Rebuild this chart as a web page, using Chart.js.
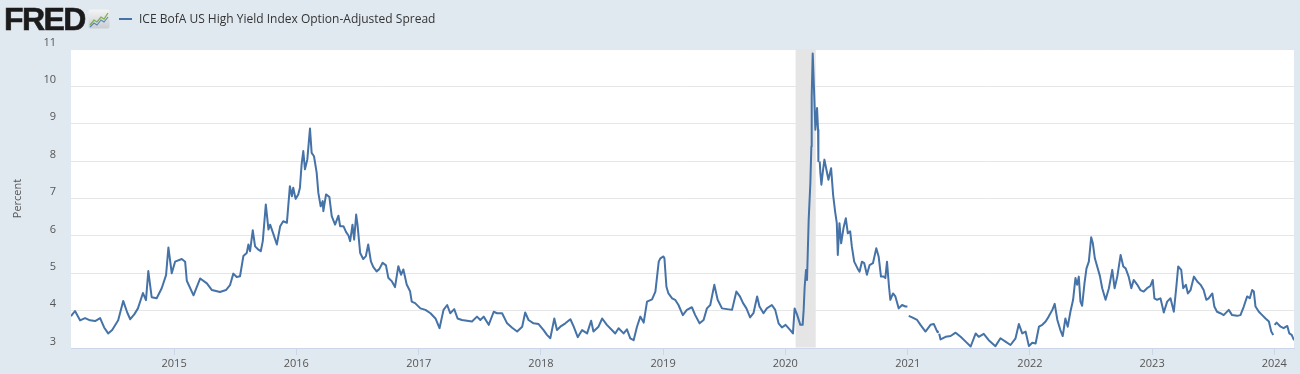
<!DOCTYPE html>
<html>
<head>
<meta charset="utf-8">
<script src="https://cdn.jsdelivr.net/npm/chart.js@4.4.1/dist/chart.umd.min.js"></script>
<style>
html,body{margin:0;padding:0;background:#e1e9f0;}
#wrap{position:relative;width:1300px;height:374px;overflow:hidden;background:#e1e9f0;}
#logo{position:absolute;left:4px;top:3px;font:bold 32px 'Liberation Sans',Arial,sans-serif;line-height:32px;letter-spacing:-1.6px;color:#1b1b1b;-webkit-text-stroke:0.6px #1b1b1b;}
#icon{position:absolute;left:88px;top:9px;}
#legend{position:absolute;left:119px;top:11px;font:12px 'Open Sans',sans-serif;color:#333;line-height:16px;white-space:nowrap;}
#legend .sw{display:inline-block;width:13px;height:2px;background:#4572a7;vertical-align:middle;margin-right:7px;position:relative;top:-1px;}
canvas{position:absolute;left:0;top:0;}
</style>
</head>
<body>
<div id="wrap">
  <canvas id="c" width="1300" height="374"></canvas>
  <div id="logo">FRED</div>
  <svg id="icon" width="22" height="20" viewBox="0 0 22 20">
    <defs><linearGradient id="g" x1="0" y1="0" x2="0" y2="1"><stop offset="0" stop-color="#f4f4f4"/><stop offset="1" stop-color="#c9cdd1"/></linearGradient></defs>
    <rect x="0.5" y="0.5" width="21" height="19" rx="2" fill="url(#g)"/>
    <polyline points="2,16 6,11 9,13 13,8 16,10 20,4" fill="none" stroke="#7fb24a" stroke-width="1.3"/>
    <polyline points="2,18 6,14 9,16 13,11 16,13 20,8" fill="none" stroke="#5b86b8" stroke-width="1.1"/>
  </svg>
  <div id="legend"><span class="sw"></span><span id="legendText"></span></div>
</div>
<script>
const seriesName = 'ICE BofA US High Yield Index Option-Adjusted Spread';
const yAxisTitle = 'Percent';
const yearTicks = [2015, 2016, 2017, 2018, 2019, 2020, 2021, 2022, 2023, 2024];
const recessions = [['2020-02-01', '2020-04-01']];

const dates = [
  '2014-02-27','2014-03-11','2014-03-26','2014-04-10','2014-04-25','2014-05-10','2014-05-25','2014-06-06','2014-06-18','2014-06-30','2014-07-18','2014-08-02','2014-08-14','2014-08-23','2014-09-04','2014-09-15','2014-09-30','2014-10-09','2014-10-16','2014-10-26','2014-11-10','2014-11-25','2014-12-08','2014-12-15','2014-12-25',
  '2015-01-04','2015-01-24','2015-02-03','2015-02-08','2015-02-28','2015-03-20','2015-04-09','2015-04-24','2015-05-18','2015-06-05','2015-06-17','2015-06-27','2015-07-07','2015-07-17','2015-07-27','2015-08-06','2015-08-11','2015-08-16','2015-08-24','2015-08-31','2015-09-10','2015-09-17','2015-09-23','2015-10-02','2015-10-10','2015-10-15','2015-10-25','2015-11-04','2015-11-14','2015-11-23','2015-12-04','2015-12-13','2015-12-19','2015-12-23','2015-12-30',
  '2016-01-07','2016-01-12','2016-01-17','2016-01-22','2016-01-27','2016-02-03','2016-02-11','2016-02-16','2016-02-23','2016-03-02','2016-03-07','2016-03-14','2016-03-20','2016-03-22','2016-03-30','2016-04-09','2016-04-16','2016-04-26','2016-05-06','2016-05-11','2016-05-21','2016-05-29','2016-06-05','2016-06-10','2016-06-17','2016-06-22','2016-06-28','2016-07-02','2016-07-10','2016-07-19','2016-07-27','2016-08-03','2016-08-11','2016-08-18','2016-08-28','2016-09-05','2016-09-15','2016-09-25','2016-10-02','2016-10-12','2016-10-22','2016-11-01','2016-11-09','2016-11-16','2016-11-26','2016-12-06','2016-12-11','2016-12-21',
  '2017-01-06','2017-01-21','2017-02-05','2017-02-20','2017-03-04','2017-03-16','2017-03-27','2017-04-05','2017-04-17','2017-04-27','2017-05-10','2017-05-25','2017-06-09','2017-06-24','2017-07-04','2017-07-14','2017-07-29','2017-08-13','2017-08-23','2017-09-07','2017-09-22','2017-10-07','2017-10-22','2017-11-06','2017-11-15','2017-11-25','2017-12-10','2017-12-25',
  '2018-01-09','2018-01-19','2018-01-29','2018-02-10','2018-02-18','2018-02-28','2018-03-15','2018-03-30','2018-04-09','2018-04-21','2018-05-04','2018-05-19','2018-05-31','2018-06-07','2018-06-22','2018-07-03','2018-07-17','2018-08-01','2018-08-11','2018-08-21','2018-09-05','2018-09-15','2018-09-25','2018-10-05','2018-10-15','2018-10-25','2018-11-04','2018-11-14','2018-11-29','2018-12-09','2018-12-19','2018-12-24',
  '2019-01-02','2019-01-05','2019-01-11','2019-01-17','2019-01-28','2019-02-06','2019-02-16','2019-03-01','2019-03-13','2019-03-28','2019-04-07','2019-04-20','2019-05-02','2019-05-12','2019-05-22','2019-06-03','2019-06-13','2019-06-26','2019-07-11','2019-07-26','2019-08-08','2019-08-18','2019-08-28','2019-09-07','2019-09-18','2019-09-28','2019-10-09','2019-10-16','2019-10-28','2019-11-07','2019-11-22','2019-12-02','2019-12-12','2019-12-22',
  '2020-01-02','2020-01-16','2020-01-24','2020-01-29','2020-02-05','2020-02-15','2020-02-22','2020-02-25','2020-02-28','2020-03-03','2020-03-06','2020-03-11','2020-03-16','2020-03-19','2020-03-20','2020-03-23','2020-03-27','2020-03-31','2020-04-05','2020-04-08','2020-04-09','2020-04-10','2020-04-13','2020-04-15','2020-04-18','2020-04-23','2020-04-27','2020-05-03','2020-05-09','2020-05-17','2020-05-23','2020-05-29','2020-06-03','2020-06-06','2020-06-11','2020-06-16','2020-06-23','2020-06-30','2020-07-06','2020-07-13','2020-07-18','2020-07-25','2020-08-04','2020-08-10','2020-08-17','2020-08-24','2020-09-01','2020-09-09','2020-09-19','2020-09-29','2020-10-06','2020-10-13','2020-10-21','2020-10-26','2020-10-31','2020-11-06','2020-11-10','2020-11-18','2020-11-25','2020-12-05','2020-12-15','2020-12-25','2020-12-31',
  '2021-01-01','2021-01-04','2021-01-14','2021-01-29','2021-02-08','2021-02-23','2021-03-10','2021-03-20','2021-03-30','2021-04-01','2021-04-02','2021-04-05','2021-04-09','2021-04-24','2021-05-09','2021-05-24','2021-06-08','2021-06-23','2021-07-08','2021-07-23','2021-08-01','2021-08-16','2021-08-31','2021-09-20','2021-10-05','2021-10-20','2021-11-04','2021-11-19','2021-11-29','2021-12-09','2021-12-19','2021-12-29',
  '2022-01-08','2022-01-18','2022-01-28','2022-02-07','2022-02-17','2022-02-26','2022-03-09','2022-03-16','2022-03-24','2022-04-02','2022-04-09','2022-04-17','2022-04-24','2022-05-02','2022-05-10','2022-05-17','2022-05-22','2022-05-27','2022-06-01','2022-06-06','2022-06-13','2022-06-19','2022-06-26','2022-07-03','2022-07-08','2022-07-14','2022-07-21','2022-07-29','2022-08-05','2022-08-15','2022-08-25','2022-09-04','2022-09-11','2022-09-19','2022-09-29','2022-10-07','2022-10-14','2022-10-23','2022-10-31','2022-11-07','2022-11-18','2022-11-27','2022-12-07','2022-12-17','2022-12-27',
  '2023-01-03','2023-01-08','2023-01-16','2023-01-26','2023-02-05','2023-02-15','2023-02-25','2023-03-07','2023-03-15','2023-03-20','2023-03-29','2023-04-04','2023-04-12','2023-04-18','2023-04-26','2023-05-06','2023-05-16','2023-05-26','2023-06-04','2023-06-12','2023-06-19','2023-06-30','2023-07-06','2023-07-14','2023-07-24','2023-08-03','2023-08-18','2023-08-28','2023-09-12','2023-09-22','2023-10-02','2023-10-12','2023-10-20','2023-10-27','2023-11-01','2023-11-06','2023-11-16','2023-11-26','2023-12-06','2023-12-16','2023-12-23','2023-12-29',
  '2024-01-01','2024-01-02','2024-01-08','2024-01-20','2024-01-29','2024-02-09','2024-02-15','2024-02-22','2024-02-29'
];

const spreads = [
  3.85,3.99,3.74,3.80,3.74,3.72,3.80,3.55,3.39,3.48,3.74,4.26,3.95,3.77,3.90,4.06,4.47,4.28,5.06,4.36,4.33,4.60,4.95,5.69,5.00,
  5.31,5.38,5.31,4.80,4.41,4.86,4.73,4.55,4.50,4.55,4.68,4.99,4.90,4.92,5.46,5.54,5.77,5.59,6.15,5.72,5.63,5.59,5.86,6.84,6.17,6.30,6.04,5.77,6.26,6.39,6.35,7.33,7.06,7.29,6.99,
  7.11,7.29,7.91,8.27,7.78,8.04,8.87,8.22,8.13,7.69,7.15,6.79,6.93,6.66,7.11,7.04,6.53,6.30,6.54,6.26,6.26,6.10,6.01,5.86,6.30,5.90,6.57,6.30,5.54,5.38,5.46,5.77,5.32,5.17,5.05,5.11,5.28,5.21,4.88,4.79,4.63,5.19,4.96,5.10,4.70,4.52,4.24,4.20,
  4.06,4.02,3.93,3.79,3.53,4.02,4.15,3.93,4.04,3.79,3.75,3.73,3.71,3.84,3.75,3.84,3.62,3.97,3.93,3.93,3.66,3.54,3.44,3.57,3.95,3.75,3.66,3.64,
  3.48,3.35,3.26,3.79,3.48,3.57,3.66,3.77,3.57,3.29,3.48,3.39,3.73,3.44,3.57,3.79,3.62,3.48,3.39,3.53,3.39,3.50,3.26,3.21,3.57,3.84,3.68,4.24,4.30,4.51,5.31,5.40,
  5.45,5.40,4.64,4.46,4.33,4.29,4.15,3.88,4.02,4.09,3.88,3.66,3.75,4.06,4.15,4.69,4.29,4.06,4.04,4.02,4.51,4.39,4.20,4.06,3.82,3.93,4.38,4.11,3.93,4.06,4.15,4.02,3.66,3.55,
  3.62,3.48,3.39,4.06,3.90,3.62,3.62,4.02,4.64,5.09,4.82,6.43,7.41,8.39,9.73,10.88,9.91,8.84,9.42,8.84,8.00,null,7.99,7.68,7.37,7.77,8.04,7.77,7.50,7.81,7.10,6.65,6.34,5.49,6.34,5.80,6.21,6.47,6.07,6.12,5.71,5.31,5.13,5.04,5.31,5.27,4.96,5.22,5.27,5.67,5.45,4.91,4.91,4.87,5.31,4.64,4.29,4.46,4.38,4.06,4.15,4.11,4.11,
  null,3.86,3.82,3.75,3.62,3.44,3.62,3.64,3.44,3.42,null,3.38,3.23,3.30,3.32,3.41,3.30,3.17,3.04,3.39,3.30,3.38,3.21,3.05,3.26,3.17,3.08,3.26,3.64,3.39,3.44,3.05,
  3.14,3.12,3.57,3.62,3.71,3.84,4.02,4.18,3.75,3.48,3.32,3.79,3.57,3.97,4.29,4.87,4.69,4.91,4.24,4.13,4.73,5.13,5.31,5.96,5.80,5.40,5.18,4.93,4.60,4.29,4.60,5.09,4.60,4.91,5.49,5.18,5.13,4.91,4.60,4.82,4.69,4.55,4.51,4.60,4.66,
  4.82,4.33,4.29,4.33,3.95,4.24,4.33,3.97,4.69,5.18,5.09,4.60,4.69,4.46,4.55,4.91,4.78,4.69,4.55,4.29,4.33,4.46,4.11,3.97,3.93,3.88,4.02,3.88,3.86,3.88,4.11,4.38,4.33,4.55,4.51,4.11,3.97,3.88,3.79,3.71,3.44,3.35,
  null,3.62,3.68,3.57,3.53,3.59,3.39,3.35,3.21
];

document.getElementById('legendText').textContent = seriesName;

const points = dates.map((d, i) => ({ x: Date.parse(d), y: spreads[i] }));

const plotBackground = {
  id: 'plotBackground',
  beforeDraw(chart) {
    const { ctx, chartArea: a } = chart;
    ctx.save();
    ctx.fillStyle = '#ffffff';
    ctx.fillRect(a.left, a.top, a.right - a.left, a.bottom - a.top);
    ctx.restore();
  }
};

const recessionBands = {
  id: 'recessionBands',
  beforeDatasetsDraw(chart) {
    const { ctx, chartArea: a, scales } = chart;
    const xs = scales.x;
    ctx.save();
    ctx.fillStyle = '#e5e5e5';
    recessions.forEach(([s, e]) => {
      const x0 = xs.getPixelForValue(Date.parse(s));
      const x1 = xs.getPixelForValue(Date.parse(e));
      ctx.fillRect(x0, a.top, x1 - x0, a.bottom - a.top - 0.5);
    });
    ctx.restore();
  }
};

new Chart(document.getElementById('c'), {
  type: 'line',
  data: {
    datasets: [{
      label: seriesName,
      data: points,
      borderColor: '#4572a7',
      borderWidth: 2,
      pointRadius: 0,
      fill: false,
      spanGaps: false,
      tension: 0,
      borderJoinStyle: 'round'
    }]
  },
  options: {
    responsive: false,
    animation: false,
    devicePixelRatio: 1,
    layout: { padding: { top: 49, right: 6, left: 0, bottom: 0 } },
    plugins: { legend: { display: false }, tooltip: { enabled: false } },
    scales: {
      x: {
        type: 'linear',
        min: Date.parse(dates[0]),
        max: Date.parse(dates[dates.length - 1]),
        afterBuildTicks(scale) {
          scale.ticks = yearTicks.map(y => ({ value: Date.UTC(y, 0, 1) }));
        },
        afterFit(scale) { scale.height = 26; },
        ticks: {
          autoSkip: false,
          maxRotation: 0,
          padding: 2,
          color: '#555',
          font: { family: "'Open Sans', sans-serif", size: 11 },
          callback: (v) => String(new Date(v).getUTCFullYear())
        },
        grid: { drawOnChartArea: false, drawTicks: true, tickLength: 7, color: '#ccd6eb', lineWidth: 1 },
        border: { display: true, color: '#ccd6eb', width: 1 }
      },
      y: {
        min: 3,
        max: 11,
        afterFit(scale) { scale.width = 71; },
        ticks: {
          stepSize: 1,
          padding: 15,
          labelOffset: -6.5,
          color: '#555',
          font: { family: "'Open Sans', sans-serif", size: 11 }
        },
        grid: { color: '#e6e6e6', lineWidth: 1, drawTicks: false },
        border: { display: false },
        title: {
          display: true,
          text: yAxisTitle,
          color: '#555',
          font: { family: "'Open Sans', sans-serif", size: 11 },
          padding: { top: 11, bottom: 0 }
        }
      }
    }
  },
  plugins: [plotBackground, recessionBands]
});
</script>
</body>
</html>
